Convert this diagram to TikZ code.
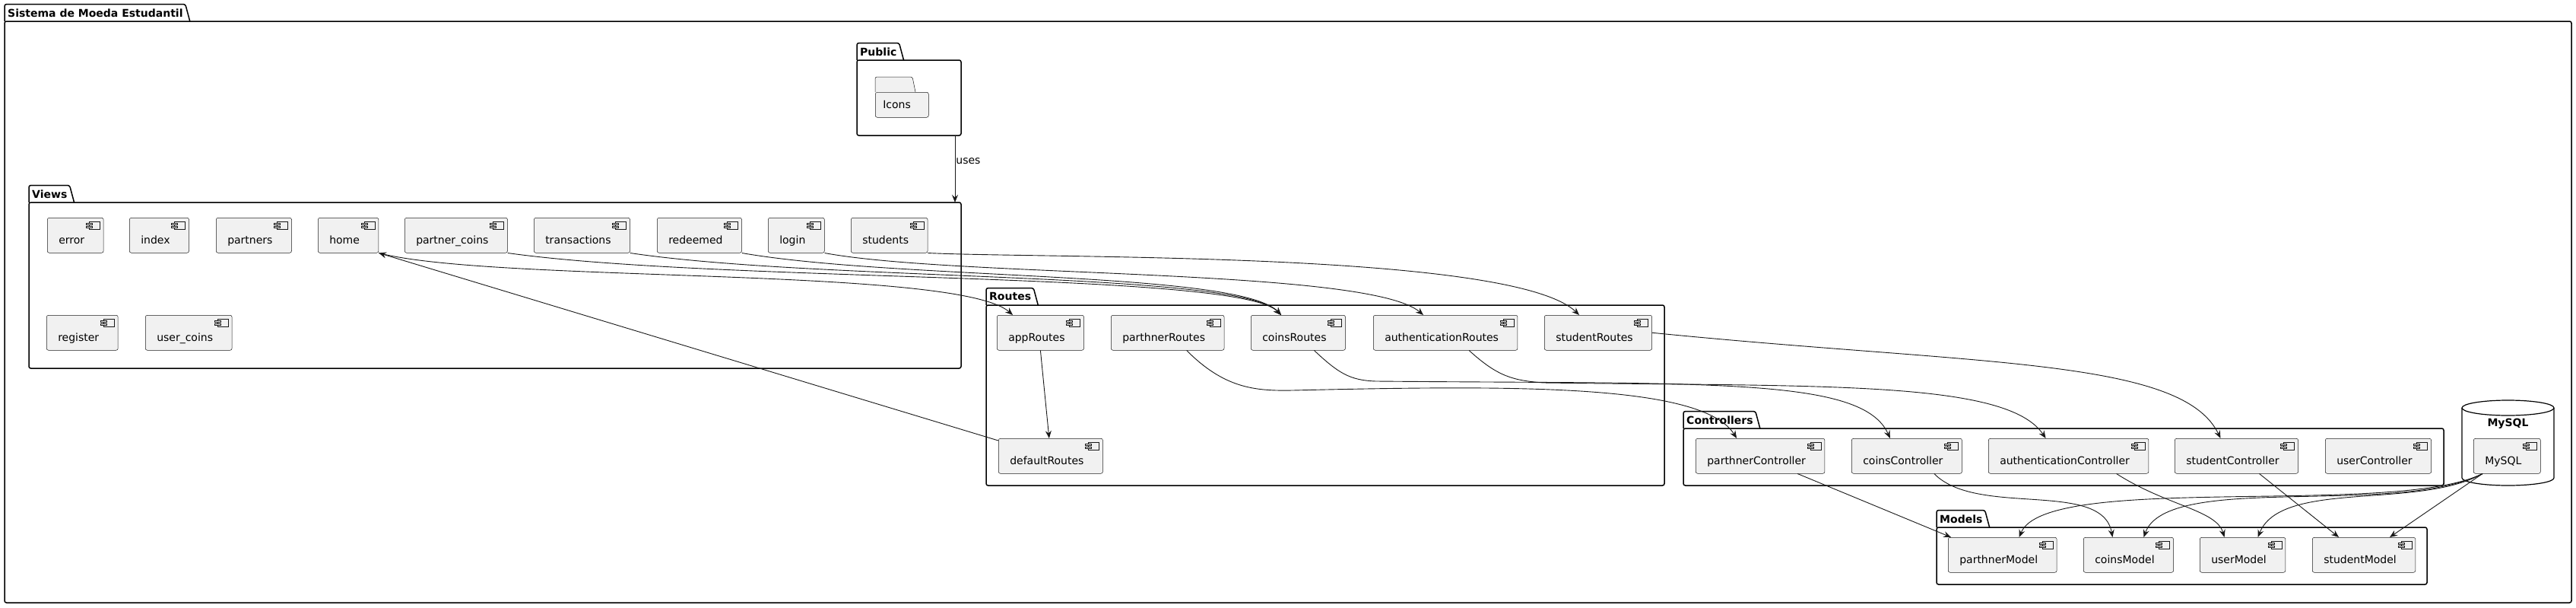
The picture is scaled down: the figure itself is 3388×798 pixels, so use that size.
\documentclass[tikz,border=0pt]{standalone}
\usepackage{fontspec}
\setmainfont{DejaVu Sans}
\usetikzlibrary{arrows.meta}
\definecolor{compfill}{HTML}{F1F1F1}
\definecolor{umlline}{HTML}{181818}
\tikzset{>={Stealth[length=10pt,width=8pt,inset=3.5pt]}}
\tikzset{
  every node/.style={font=\fontsize{14pt}{16pt}\selectfont},
  comp/.style={draw=umlline, line width=0.5pt, fill=compfill, rounded corners=2.5pt,
    anchor=north west, inner xsep=0pt, inner ysep=0pt, text height=34pt, text depth=12pt,
    execute at begin node={\hskip15pt}, execute at end node={\hskip25pt},
    path picture={
      \draw[umlline, line width=0.5pt, fill=compfill, sharp corners]
        ([xshift=-19pt,yshift=-5pt]path picture bounding box.north east) rectangle ++(14,10);
      \draw[umlline, line width=0.5pt, fill=compfill, sharp corners]
        ([xshift=-23pt,yshift=-7pt]path picture bounding box.north east) rectangle ++(8,2);
      \draw[umlline, line width=0.5pt, fill=compfill, sharp corners]
        ([xshift=-23pt,yshift=-11pt]path picture bounding box.north east) rectangle ++(8,2);
    }},
  folder/.style={draw=umlline, line width=0.5pt, fill=compfill, rounded corners=2.5pt,
    anchor=north west, text width=50pt, align=left, inner xsep=10pt, minimum height=33pt},
  pkgline/.style={draw=black, line width=1.5pt},
  pkgtitle/.style={font=\fontsize{14pt}{16pt}\bfseries\selectfont, anchor=south west,
    inner xsep=4pt, inner ysep=0pt, minimum height=22pt},
  conn/.style={->, draw=umlline, line width=0.9pt},
}
% package frame: name, title, left, body top, right, bottom
\newcommand{\umlpkg}[6]{%
  \node[pkgtitle] (#1) at (#3,#4) {#2};
  \draw[pkgline, rounded corners=2.5pt] (#1.south west) -- (#1.north west)
    -- ([xshift=-1pt]#1.north east) -- ([xshift=5pt]#1.south east);
  \draw[pkgline, rounded corners=2.5pt] (#3,#4) rectangle (#5,#6);
}

\begin{document}
\begin{tikzpicture}[x=1pt, y=-1pt]
\useasboundingbox (0,0) rectangle (3388,798);

% packages
\umlpkg{sysframe}{Sistema de Moeda Estudantil}{6}{28}{3382}{792}
\umlpkg{public}{Public}{1127}{79}{1264}{178}
\umlpkg{views}{Views}{38}{266}{1264}{484}
\umlpkg{routes}{Routes}{1297}{401}{2189}{638}
\umlpkg{controllers}{Controllers}{2214}{563}{3214}{638}
\umlpkg{models}{Models}{2547}{693}{3192}{768}

% Public
\node[folder] (icons) at (1151,121) {Icons};
\filldraw[draw=umlline, line width=0.5pt, fill=compfill, rounded corners=2.5pt]
  (1151,121) -- (1151,101) -- (1200,101) -- (1204,121);

% database
\draw[draw=black, line width=1.2pt, fill=white] (3238,536) -- (3238,628)
  arc[start angle=180, end angle=0, x radius=60.5, y radius=10] -- (3359,536);
\draw[draw=black, line width=1.2pt] (3298.5,536) ellipse [x radius=60.5, y radius=10];
\node[font=\fontsize{14pt}{16pt}\bfseries\selectfont] (mysqlDb) at (3298.5,557) {MySQL};

% Views
\node[comp] (error) at (62,286) {error};
\node[comp] (index) at (170,286) {index};
\node[comp] (partners) at (284,286) {partners};
\node[comp] (home) at (418,286) {home};
\node[comp] (partnerCoins) at (532,286) {partner\_coins};
\node[comp] (transactions) at (702,286) {transactions};
\node[comp] (redeemed) at (864,286) {redeemed};
\node[comp] (login) at (1010,286) {login};
\node[comp] (students) at (1119,286) {students};
\node[comp] (register) at (61,414) {register};
\node[comp] (userCoins) at (191,414) {user\_coins};

% Routes
\node[comp] (appRoutes) at (1311,414) {appRoutes};
\node[comp] (parthnerRoutes) at (1461,414) {parthnerRoutes};
\node[comp] (coinsRoutes) at (1645,414) {coinsRoutes};
\node[comp] (authenticationRoutes) at (1806,414) {authenticationRoutes};
\node[comp] (studentRoutes) at (2031,414) {studentRoutes};
\node[comp] (defaultRoutes) at (1313,576) {defaultRoutes};

% Controllers
\node[comp] (parthnerController) at (2230,576) {parthnerController};
\node[comp] (coinsController) at (2435,576) {coinsController};
\node[comp] (authenticationController) at (2615,576) {authenticationController};
\node[comp] (studentController) at (2860,576) {studentController};
\node[comp] (userController) at (3058,576) {userController};
\node[comp] (mysql) at (3253,576) {MySQL};

% Models
\node[comp] (parthnerModel) at (2562,706) {parthnerModel};
\node[comp] (coinsModel) at (2740,706) {coinsModel};
\node[comp] (userModel) at (2893,706) {userModel};
\node[comp] (studentModel) at (3041,706) {studentModel};

% connectors
\coordinate (publicOut) at (1256,178);
\coordinate (viewsIn) at (1256,266);
\draw[conn] (publicOut) -- node[pos=0.38, right, inner sep=1pt] (usesLabel) {uses} (viewsIn);

\draw[conn] (home.south east) .. controls (650,372) and (1260,350) .. ([xshift=21pt]appRoutes.north west);
\draw[conn] ([yshift=-3pt]defaultRoutes.north west) -- (home.south east);
\draw[conn] (appRoutes.south) -- ([xshift=-2pt]defaultRoutes.north);

\draw[conn] (partnerCoins.south east) .. controls (950,372) and (1630,356) .. ([xshift=40pt]coinsRoutes.north west);
\draw[conn] (transactions.south east) .. controls (1080,370) and (1630,356) .. ([xshift=40pt]coinsRoutes.north west);
\draw[conn] (redeemed.south east) .. controls (1180,368) and (1630,356) .. ([xshift=40pt]coinsRoutes.north west);
\draw[conn] (login.south east) .. controls (1260,365) and (1800,352) .. ([xshift=66pt]authenticationRoutes.north west);
\draw[conn] (students.south east) .. controls (1380,340) and (1990,330) .. ([xshift=46pt]studentRoutes.north west);

\draw[conn] ([xshift=25pt]parthnerRoutes.south) .. controls (1610,510) and (1650,514) .. (1700,513)
  .. controls (2000,506) and (2240,505) .. ([xshift=-31pt]parthnerController.north);
\draw[conn] ([xshift=21pt]coinsRoutes.south) .. controls (1760,490) and (1775,500) .. (1810,501)
  .. controls (2250,505) and (2450,495) .. ([xshift=-22pt]coinsController.north);
\draw[conn] ([xshift=31pt]authenticationRoutes.south) .. controls (1970,495) and (1990,500) .. (2030,503)
  .. controls (2400,508) and (2640,500) .. ([xshift=-30pt]authenticationController.north);
\draw[conn] (studentRoutes.east) .. controls (2600,480) and (2870,470) .. ([xshift=-21pt]studentController.north);

\draw[conn] ([xshift=49pt]parthnerController.south) -- ([xshift=4pt]parthnerModel.north west);
\draw[conn] ([xshift=36pt]coinsController.south) .. controls (2600,680) and (2765,630) .. ([xshift=-21pt]coinsModel.north);
\draw[conn] ([xshift=63pt]authenticationController.south) .. controls (2850,665) and (2915,670) .. ([xshift=-24pt]userModel.north);
\draw[conn] ([xshift=30pt]studentController.south) -- ([xshift=-33pt]studentModel.north);

\draw[conn] ([xshift=12pt]mysql.south west) .. controls (3150,680) and (2690,620) .. ([xshift=22pt]parthnerModel.north);
\draw[conn] ([xshift=12pt]mysql.south west) .. controls (3150,680) and (2850,620) .. ([xshift=20pt]coinsModel.north);
\draw[conn] ([xshift=12pt]mysql.south west) .. controls (3180,670) and (3000,630) .. ([xshift=20pt]userModel.north);
\draw[conn] ([xshift=12pt]mysql.south west) -- ([xshift=34pt]studentModel.north);
\end{tikzpicture}
\end{document}
